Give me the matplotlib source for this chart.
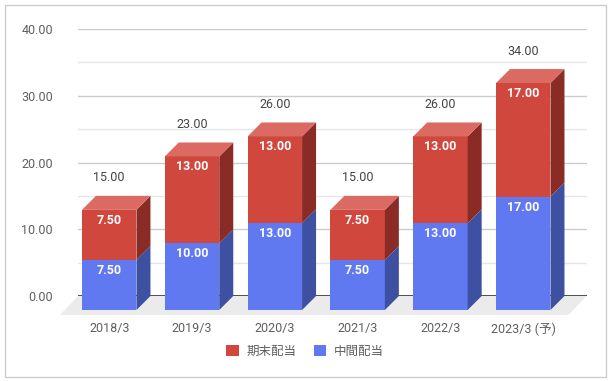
import matplotlib.pyplot as plt
from matplotlib.patches import Patch, Polygon, Rectangle


years = ["2018/3", "2019/3", "2020/3", "2021/3", "2022/3", "2023/3 (予)"]
interim = [7.5, 10.0, 13.0, 7.5, 13.0, 17.0]
year_end = [7.5, 13.0, 13.0, 7.5, 13.0, 17.0]
series_names = ["期末配当", "中間配当"]
yticks = [0, 10, 20, 30, 40]

RED = ("#cf473d", "#db6b62", "#8a2b26")    # front, top, side
BLUE = ("#6079f0", "#8a9cf4", "#3d50a1")
DEPTH_PX = 14
BAR_W = 0.658

plt.rcParams["font.family"] = ["Roboto", "Noto Sans CJK JP", "DejaVu Sans"]

fig = plt.figure(figsize=(6.11, 3.81), dpi=100)
ax = fig.add_axes([78 / 611, 85 / 381, 508.5 / 611, 267 / 381])
ax.set_xlim(-0.546, 5.595)
ax.set_ylim(0, 40)

# pixel depth of the fake 3d converted to data units
px_x = ax.get_position().width * 611 / (5.595 + 0.546)
px_y = ax.get_position().height * 381 / 40
dx = DEPTH_PX / px_x
dy = DEPTH_PX / px_y

# floor
x0, x1 = ax.get_xlim()
floor = Polygon([(x0, 0), (x1, 0), (x1 - 18 / px_x, -19 / px_y), (x0 - 18 / px_x, -19 / px_y)],
                closed=True, facecolor="#ebebeb", edgecolor="none", clip_on=False, zorder=0)
ax.add_patch(floor)

for v in yticks:
    ax.axhline(v, color="#cccccc", linewidth=1, zorder=1)
for v in [5, 15, 25, 35]:
    ax.axhline(v, color="#e6e6e6", linewidth=1, zorder=1)
ax.axhline(0, color="#333333", linewidth=1.2, zorder=2)


def draw_block(x, lo, hi, colors, top):
    front, top_c, side = colors
    l, r = x - BAR_W / 2, x + BAR_W / 2
    ax.add_patch(Polygon([(l - dx, lo - dy), (r - dx, lo - dy), (r - dx, hi - dy), (l - dx, hi - dy)],
                         facecolor=front, edgecolor="none", clip_on=False, zorder=3))
    ax.add_patch(Polygon([(r - dx, lo - dy), (r, lo), (r, hi), (r - dx, hi - dy)],
                         facecolor=side, edgecolor="none", clip_on=False, zorder=3))
    if top:
        ax.add_patch(Polygon([(l - dx, hi - dy), (r - dx, hi - dy), (r, hi), (l, hi)],
                             facecolor=top_c, edgecolor="none", clip_on=False, zorder=3))


for i, (a, b) in enumerate(zip(interim, year_end)):
    draw_block(i, 0, a, BLUE, False)
    draw_block(i, a, a + b, RED, True)
    cx = i - dx
    ax.text(cx, a - dy - 10.5 / px_y, f"{a:.2f}", ha="center", va="center",
            color="white", fontsize=9, fontweight="bold", zorder=4)
    ax.text(cx, a + b - dy - 10.5 / px_y, f"{b:.2f}", ha="center", va="center",
            color="white", fontsize=9, fontweight="bold", zorder=4)
    ax.text(cx, a + b + 18 / px_y, f"{a + b:.2f}", ha="center", va="center",
            color="#444444", fontsize=9, zorder=4)

ax.set_yticks(yticks)
ax.set_yticklabels([f"{v:.2f}" for v in yticks])
ax.set_xticks([i - dx for i in range(len(years))])
ax.set_xticklabels(years)
ax.tick_params(axis="y", length=0, pad=18, labelsize=9, labelcolor="#5f5f5f")
ax.tick_params(axis="x", length=0, pad=19, labelsize=9, labelcolor="#5f5f5f")
for s in ax.spines.values():
    s.set_visible(False)

handles = [Patch(facecolor=RED[0]), Patch(facecolor=BLUE[0])]
fig.legend(handles, series_names, loc="center", bbox_to_anchor=(305 / 611, 1 - 351 / 381),
           ncol=2, frameon=False, fontsize=9, labelcolor="#5f5f5f",
           handlelength=1.0, handleheight=1.0, handletextpad=0.6, columnspacing=1.4)

fig.patches.append(Rectangle((4.5 / 611, 4.5 / 381), 601 / 611, 372 / 381, transform=fig.transFigure,
                             fill=False, edgecolor="#cccccc", linewidth=1))

fig.savefig("out.png", dpi=100)
